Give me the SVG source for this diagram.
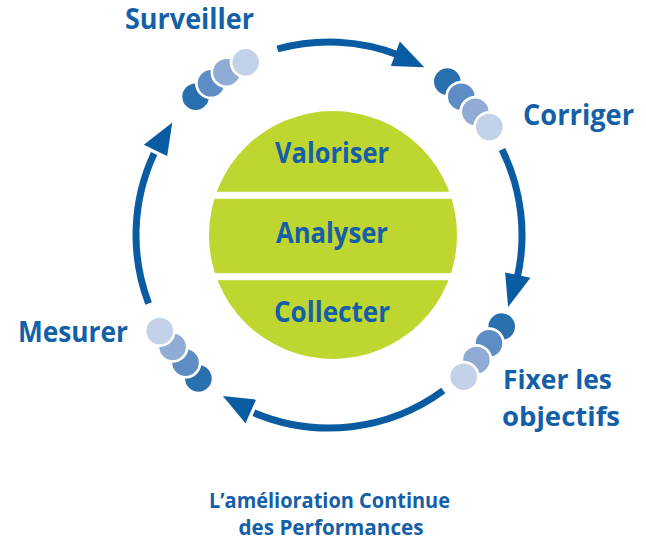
<svg xmlns="http://www.w3.org/2000/svg" width="646" height="542" viewBox="0 0 646 542">
  <style>
    .lbl { font-family: "Open Sans", "Noto Sans", "Liberation Sans", sans-serif; font-weight: 700; fill: #1460a8; }
    .big { font-size: 28px; }
    .mid { font-size: 27px; }
    .ttl { font-size: 21px; }
    .arc { fill: none; stroke: #0a5ca2; stroke-width: 7; }
    .head { fill: #0a5ca2; }
    .b { stroke: #ffffff; stroke-width: 2.7; }
    .b1 { fill: #2b70ae; }
    .b2 { fill: #5d8dc4; }
    .b3 { fill: #90acd5; }
    .b4 { fill: #c3d2e9; }
  </style>
  <rect width="646" height="542" fill="#ffffff"/>

  <g id="center">
    <circle cx="333" cy="235" r="124" fill="#bed62f"/>
    <rect x="200" y="191.8" width="270" height="7" fill="#ffffff"/>
    <rect x="200" y="273.2" width="270" height="7" fill="#ffffff"/>
    <text class="lbl big" x="332" y="163" text-anchor="middle" textLength="114" lengthAdjust="spacingAndGlyphs">Valoriser</text>
    <text class="lbl big" x="332" y="243" text-anchor="middle" textLength="112" lengthAdjust="spacingAndGlyphs">Analyser</text>
    <text class="lbl big" x="332" y="322" text-anchor="middle" textLength="116" lengthAdjust="spacingAndGlyphs">Collecter</text>
  </g>

  <g id="connectors">
    <path class="arc" d="M 277.4 49.0 A 193 193 0 0 1 398.5 54.9"/>
    <polygon class="head" points="424.3,67.2 390.9,66.0 399.8,41.5"/>
    <path class="arc" d="M 502.0 149.5 A 193 193 0 0 1 517.1 278.4"/>
    <polygon class="head" points="508.1,307.0 505.1,272.4 530.5,277.8"/>
    <path class="arc" d="M 443.3 390.5 A 193 193 0 0 1 253.9 412.8"/>
    <polygon class="head" points="222.8,396.1 256.1,399.6 245.5,423.3"/>
    <path class="arc" d="M 148.6 303.5 A 193 193 0 0 1 154.1 153.4"/>
    <polygon class="head" points="172.3,122.4 167.2,156.1 143.8,144.7"/>
  </g>

  <g id="surveiller">
    <circle class="b b1" cx="195.6" cy="96.7" r="14.65"/>
    <circle class="b b2" cx="211" cy="83.3" r="14.65"/>
    <circle class="b b3" cx="226.5" cy="72.2" r="14.65"/>
    <circle class="b b4" cx="245.7" cy="62.3" r="14.65"/>
    <text class="lbl big" x="125" y="29" textLength="129" lengthAdjust="spacingAndGlyphs">Surveiller</text>
  </g>

  <g id="corriger">
    <circle class="b b1" cx="447.3" cy="81.6" r="14.65"/>
    <circle class="b b2" cx="461.3" cy="96.7" r="14.65"/>
    <circle class="b b3" cx="475.3" cy="111.8" r="14.65"/>
    <circle class="b b4" cx="489.3" cy="127" r="14.65"/>
    <text class="lbl big" x="523" y="125" textLength="111" lengthAdjust="spacingAndGlyphs">Corriger</text>
  </g>

  <g id="fixer">
    <circle class="b b1" cx="501.7" cy="326.6" r="14.65"/>
    <circle class="b b2" cx="489" cy="343.3" r="14.65"/>
    <circle class="b b3" cx="476.4" cy="360" r="14.65"/>
    <circle class="b b4" cx="463.7" cy="376.7" r="14.65"/>
    <text class="lbl mid" x="503" y="388.5" textLength="109" lengthAdjust="spacingAndGlyphs">Fixer les</text>
    <text class="lbl mid" x="502" y="425.5" textLength="118" lengthAdjust="spacingAndGlyphs">objectifs</text>
  </g>

  <g id="mesurer">
    <circle class="b b1" cx="198.4" cy="378.4" r="14.65"/>
    <circle class="b b2" cx="185.5" cy="362.6" r="14.65"/>
    <circle class="b b3" cx="172.6" cy="346.8" r="14.65"/>
    <circle class="b b4" cx="159.7" cy="331" r="14.65"/>
    <text class="lbl big" x="18" y="342" textLength="110" lengthAdjust="spacingAndGlyphs">Mesurer</text>
  </g>

  <g id="title">
    <text class="lbl ttl" x="329.5" y="508" text-anchor="middle" textLength="241" lengthAdjust="spacingAndGlyphs">L’amélioration Continue</text>
    <text class="lbl ttl" x="331" y="535" text-anchor="middle" textLength="185" lengthAdjust="spacingAndGlyphs">des Performances</text>
  </g>
</svg>
